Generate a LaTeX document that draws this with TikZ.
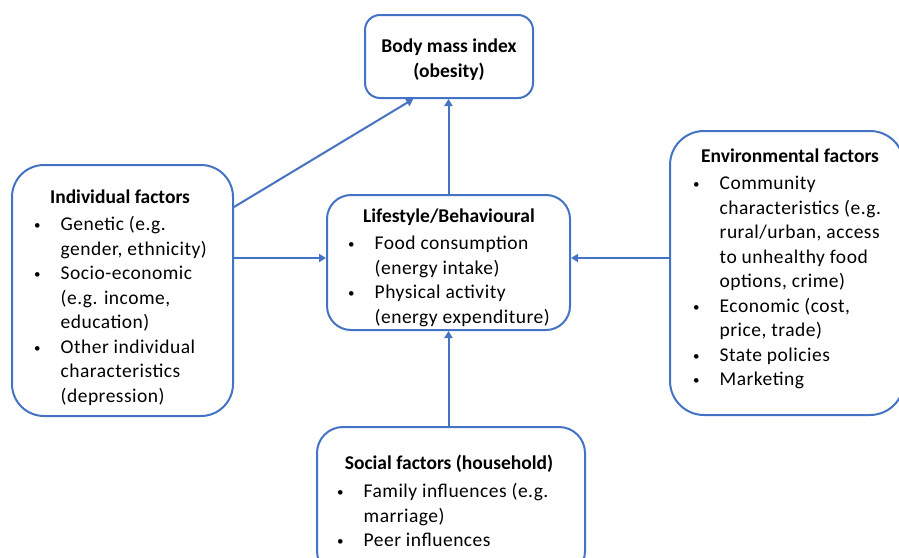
\documentclass[tikz,border=0pt]{standalone}
\usepackage{fontspec}
\setmainfont{Carlito}
\newfontfamily\spacedfont[LetterSpace=2.5]{Carlito}
\usetikzlibrary{arrows.meta,calc}
\definecolor{frame}{HTML}{4472C4}
\tikzset{
  box/.style={draw=frame, line width=2pt, fill=white, inner sep=0pt},
  conn/.style={draw=frame, line width=2pt, -{Triangle[width=8pt,length=7pt]}},
  ttl/.style={font=\fontsize{19.5}{24.5}\selectfont\bfseries, inner sep=0pt, anchor=base},
  lst/.style={font=\spacedfont\fontsize{19.5}{24.5}\selectfont, inner sep=0pt, anchor=base west},
}
\newcommand\bi{\makebox[27.5pt][l]{\hspace*{1pt}\raisebox{0.8pt}{\fontsize{13}{13}\selectfont\textbullet}}}
\newcommand\ci{\hspace*{27.5pt}}
\newenvironment{itemlines}{\begin{tabular}[t]{@{}l@{}}}{\end{tabular}}
\begin{document}
\begin{tikzpicture}[x=1pt,y=-1pt]
  \clip (0,0) rectangle (899,557);

  % boxes
  \node[box, rounded corners=15pt, minimum width=168pt, minimum height=83pt] (bmi) at (449,56.5) {};
  \node[box, rounded corners=32pt, minimum width=221pt, minimum height=251pt] (ind) at (122.5,290.5) {};
  \node[box, rounded corners=24pt, minimum width=243pt, minimum height=135pt] (ls) at (448.5,262.5) {};
  \node[box, rounded corners=34pt, minimum width=234pt, minimum height=284pt] (env) at (787,273) {};
  \node[box, rounded corners=26pt, minimum width=268pt, minimum height=150pt] (soc) at (451,502) {};

  % texts
  \node[ttl] (bmiT) at (449,52.5) {\begin{tabular}[t]{@{}c@{}}Body mass index\\(obesity)\end{tabular}};

  \node[ttl] (indT) at (120,203.5) {Individual factors};
  \node[lst] (indL) at (33,230.5) {\begin{itemlines}
    \bi Genetic (e.g.\\
    \ci gender, ethnicity)\\
    \bi Socio-economic\\
    \ci (e.g. income,\\
    \ci education)\\
    \bi Other individual\\
    \ci characteristics\\
    \ci (depression)
  \end{itemlines}};

  \node[ttl] (lsT) at (449,222) {Lifestyle/Behavioural};
  \node[lst] (lsL) at (347,249.5) {\begin{itemlines}
    \bi Food consumption\\
    \ci (energy intake)\\
    \bi Physical activity\\
    \ci (energy expenditure)
  \end{itemlines}};

  \node[ttl] (envT) at (790,162) {Environmental factors};
  \node[lst] (envL) at (692,189.5) {\begin{itemlines}
    \bi Community\\
    \ci characteristics (e.g.\\
    \ci rural/urban, access\\
    \ci to unhealthy food\\
    \ci options, crime)\\
    \bi Economic (cost,\\
    \ci price, trade)\\
    \bi State policies\\
    \bi Marketing
  \end{itemlines}};

  \node[ttl] (socT) at (449,469.5) {Social factors (household)};
  \node[lst] (socL) at (336,497.5) {\begin{itemlines}
    \bi Family influences (e.g.\\
    \ci marriage)\\
    \bi Peer influences
  \end{itemlines}};

  % connectors
  \draw[conn] ($(ind.north east)!0.17!(ind.south east)$) -- ($(bmi.south west)!0.29!(bmi.south east)$);
  \draw[conn] (ls.north) -- (ls.north |- bmi.south);
  \draw[conn] (ind.east |- 0,258) -- (ls.west |- 0,258);
  \draw[conn] (env.west |- 0,258) -- (ls.east |- 0,258);
  \draw[conn] (ls.south |- soc.north) -- (ls.south);
\end{tikzpicture}
\end{document}
